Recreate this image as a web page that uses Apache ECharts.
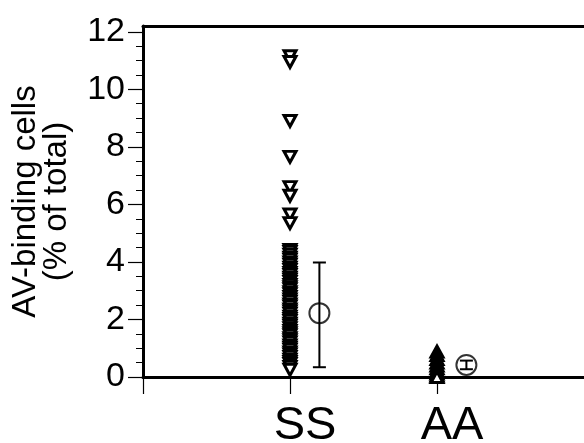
<!DOCTYPE html>
<html>
<head>
<meta charset="utf-8">
<script src="https://cdn.jsdelivr.net/npm/echarts@6/dist/echarts.min.js"></script>
<style>
html,body{margin:0;padding:0;background:#fff;}
#c{width:584px;height:443px;}
</style>
</head>
<body>
<div id="c"></div>
<script>
// ---- data ----
var categories = ['SS', 'AA'];
var categoryPositions = [1, 2];
var ssValues = [11.15, 10.95, 8.9, 7.65, 6.6, 6.3, 5.65, 5.35,
  4.42, 4.35, 4.25, 4.15, 4.08, 3.98, 3.9, 3.8, 3.72, 3.62, 3.55, 3.45, 3.38, 3.3,
  3.2, 3.12, 3.05, 2.95, 2.88, 2.78, 2.7, 2.62, 2.52, 2.45, 2.35, 2.28, 2.2, 2.1,
  2.02, 1.95, 1.85, 1.78, 1.7, 1.6, 1.52, 1.45, 1.35, 1.28, 1.2, 1.1, 1.02, 0.95,
  0.85, 0.78, 0.7, 0.6, 0.52, 0.45, 0.35, 0.25];
var aaValues = [0.88, 0.76, 0.62, 0.5, 0.4, 0.3, 0.2, 0.12, 0.05, 0.0];
var meanValues = [2.22, 0.42];
var errLow = [0.34, 0.27];
var errHigh = [3.98, 0.57];
var meanOffset = 0.2;
var yTickLabels = [0, 2, 4, 6, 8, 10, 12];
var yMinorTicks = [0.5, 1, 1.5, 2.5, 3, 3.5, 4.5, 5, 5.5, 6.5, 7, 7.5, 8.5, 9, 9.5, 10.5, 11, 11.5];

var FONT = 'Liberation Sans, Arial, Helvetica, sans-serif';
var chart = echarts.init(document.getElementById('c'), null, {renderer: 'canvas'});

var ssData = ssValues.map(function (v) { return [categoryPositions[0], v]; });
var aaData = aaValues.map(function (v) { return [categoryPositions[1], v]; });
var meanData = meanValues.map(function (v, i) { return [categoryPositions[i] + meanOffset, v]; });
var errData = meanValues.map(function (v, i) { return [categoryPositions[i] + meanOffset, errLow[i], errHigh[i]]; });

var option = {
  animation: false,
  backgroundColor: '#fff',
  grid: {left: 143, right: 0, top: 26, bottom: 66, containLabel: false, outerBoundsMode: 'none'},
  xAxis: [{
    type: 'value', min: 0, max: 3, interval: 1,
    axisLine: {show: true, onZero: false, lineStyle: {color: '#000', width: 3}},
    axisTick: {show: true, customValues: [0, 1, 2], length: 17, inside: false, lineStyle: {color: '#000', width: 1.2}},
    axisLabel: {
      customValues: categoryPositions,
      margin: 26,
      formatter: function (v) {
        var i = categoryPositions.indexOf(v);
        return i >= 0 ? '{a|' + categories[i] + '}' : '';
      },
      rich: {a: {fontSize: 47, fontFamily: FONT, color: '#000', padding: [0, 0, 0, 30]}}
    },
    splitLine: {show: false}
  }, {
    type: 'value', min: 0, max: 3, position: 'top',
    axisLine: {show: true, onZero: false, lineStyle: {color: '#000', width: 3}},
    axisTick: {show: false}, axisLabel: {show: false}, splitLine: {show: false}
  }],
  yAxis: [{
    type: 'value', min: 0, max: 12.2, interval: 2,
    axisLine: {show: true, onZero: false, lineStyle: {color: '#000', width: 3}},
    axisTick: {show: true, customValues: yTickLabels, length: 15, lineStyle: {color: '#000', width: 1.2}},
    axisLabel: {customValues: yTickLabels, fontSize: 34, fontFamily: FONT, color: '#000', margin: 18},
    splitLine: {show: false},
    name: 'AV-binding cells\n(% of total)',
    nameLocation: 'middle', nameRotate: 90, nameGap: 71,
    nameTextStyle: {fontSize: 33, fontFamily: FONT, color: '#000', lineHeight: 31, align: 'center'}
  }, {
    type: 'value', min: 0, max: 12.2, position: 'left',
    axisLine: {show: false},
    axisTick: {show: true, customValues: yMinorTicks, length: 7, lineStyle: {color: '#000', width: 1}},
    axisLabel: {show: false}, splitLine: {show: false}
  }],
  series: [{
    type: 'scatter', name: 'SS', data: ssData, symbol: 'triangle', symbolRotate: 180, symbolSize: [12, 11],
    itemStyle: {color: '#fff', borderColor: '#000', borderWidth: 3, opacity: 1}, z: 3
  }, {
    type: 'scatter', name: 'AA', data: aaData, symbol: 'triangle', symbolSize: [12, 11],
    itemStyle: {color: '#fff', borderColor: '#000', borderWidth: 3, opacity: 1}, z: 3
  }, {
    type: 'custom', name: 'err', data: errData,
    renderItem: function (params, api) {
      var x = api.value(0);
      var lo = api.coord([x, api.value(1)]);
      var hi = api.coord([x, api.value(2)]);
      var hw = 6.5;
      var st = {stroke: '#000', lineWidth: 2};
      return {type: 'group', children: [
        {type: 'line', shape: {x1: lo[0], y1: lo[1], x2: hi[0], y2: hi[1]}, style: st},
        {type: 'line', shape: {x1: lo[0] - hw, y1: lo[1], x2: lo[0] + hw, y2: lo[1]}, style: st},
        {type: 'line', shape: {x1: hi[0] - hw, y1: hi[1], x2: hi[0] + hw, y2: hi[1]}, style: st}
      ]};
    }, z: 4
  }, {
    type: 'scatter', name: 'mean', data: meanData, symbol: 'circle', symbolSize: 20,
    itemStyle: {color: 'rgba(0,0,0,0)', borderColor: '#000', borderWidth: 2}, z: 5
  }]
};
chart.setOption(option);
</script>
</body>
</html>
